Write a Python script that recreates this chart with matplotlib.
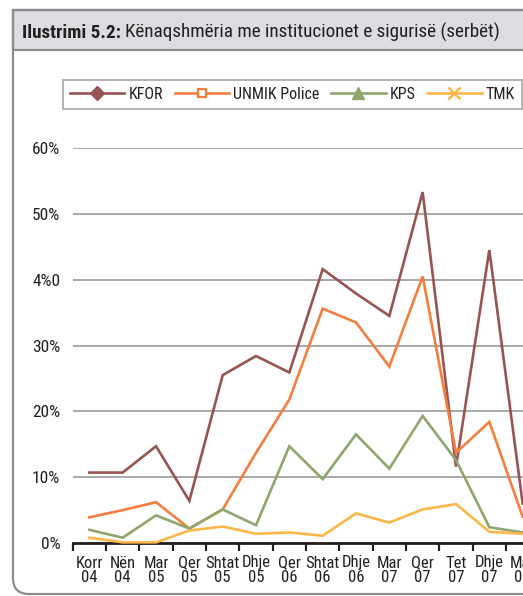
import os
import matplotlib
matplotlib.use("Agg")
import matplotlib.pyplot as plt
from matplotlib import font_manager as fm
from matplotlib.lines import Line2D
from matplotlib.path import Path
from matplotlib.patches import PathPatch, Rectangle

# Narrow sans-serif faces, best first: (regular file, bold file)
NARROW = [
    ("NotoSans-ExtraCondensed.ttf", "NotoSans-ExtraCondensedBold.ttf"),
    ("NotoSans-Condensed.ttf", "NotoSans-CondensedBold.ttf"),
    ("LiberationSansNarrow-Regular.ttf", "LiberationSansNarrow-Bold.ttf"),
    ("RobotoCondensed-Regular.ttf", "RobotoCondensed-Bold.ttf"),
    ("DejaVuSansCondensed.ttf", "DejaVuSansCondensed-Bold.ttf"),
]
files = {os.path.basename(f.fname): f.fname for f in fm.fontManager.ttflist}
reg_file = bold_file = None
for r_name, b_name in NARROW:
    if r_name in files:
        reg_file = files[r_name]
        bold_file = files.get(b_name, reg_file)
        break


def font(size, bold=False):
    if reg_file is None:
        return fm.FontProperties(family="DejaVu Sans", stretch="condensed",
                                 weight="bold" if bold else "normal", size=size)
    return fm.FontProperties(fname=bold_file if bold else reg_file, size=size)


# Survey periods (month, year)
months = ["Korr", "Nën", "Mar", "Qer", "Shtat", "Dhje", "Qer", "Shtat", "Dhje",
          "Mar", "Qer", "Tet", "Dhje", "Mar"]
years = ["04", "04", "05", "05", "05", "05", "06", "06", "06",
         "07", "07", "07", "07", "08"]

# Satisfaction shares, percent
kfor = [10.7, 10.7, 14.7, 6.4, 25.5, 28.4, 25.9, 41.6, 37.9, 34.5, 53.3, 11.6, 44.5, 6.0]
unmik = [3.9, 5.0, 6.2, 2.2, 5.1, 13.7, 21.8, 35.6, 33.5, 26.8, 40.5, 13.7, 18.4, 4.0]
kps = [2.0, 0.8, 4.2, 2.2, 5.1, 2.7, 14.7, 9.7, 16.5, 11.3, 19.3, 12.6, 2.4, 1.6]
tmk = [0.8, 0.1, 0.1, 1.9, 2.5, 1.4, 1.6, 1.1, 4.5, 3.1, 5.1, 5.9, 1.7, 1.4]

series_names = ["KFOR", "UNMIK Police", "KPS", "TMK"]
y_ticks = [0, 10, 20, 30, 40, 50, 60]
y_tick_labels = ["0%", "10%", "20%", "30%", "4%0", "50%", "60%"]

title_bold = "Ilustrimi 5.2:"
title_rest = "Kënaqshmëria me institucionet e sigurisë (serbët)"

colors = ["#985453", "#f47e3e", "#8fa66c", "#fdb748"]
ink = "#231f20"

W, H = 523, 596
fig = plt.figure(figsize=(W / 100, H / 100), dpi=100)

# Background layer in pixel coordinates: frame and title bar
bg = fig.add_axes([0, 0, 1, 1], zorder=0)
bg.set_xlim(0, W)
bg.set_ylim(H, 0)
bg.axis("off")
bg.add_patch(Rectangle((13, 10), 600, 40, facecolor="#dcdde0",
                       edgecolor="#8c8c8c", lw=1.6))
r = 16
verts = [(600, 10), (13, 10), (13, 594 - r), (13, 594), (13 + r, 594), (600, 594)]
codes = [Path.MOVETO, Path.LINETO, Path.LINETO, Path.CURVE3, Path.CURVE3, Path.LINETO]
bg.add_patch(PathPatch(Path(verts, codes), facecolor="none",
                       edgecolor="#8c8c8c", lw=1.6))


def draw_title(size):
    a = bg.text(22, 38, title_bold, fontproperties=font(size, True),
                va="baseline", ha="left", color=ink)
    fig.canvas.draw()
    b = bg.text(a.get_window_extent().x1 + 4, 38, title_rest,
                fontproperties=font(size), va="baseline", ha="left", color=ink)
    fig.canvas.draw()
    return a, b


# Title fitted to span the bar up to x = 500
a, b = draw_title(15)
right = b.get_window_extent().x1
a.remove()
b.remove()
draw_title(15 * (500 - 22) / (right - 22))

# Plot area
step = 33.33
x0 = 72.7
ax = fig.add_axes([x0 / W, 1 - 543 / H, 15 * step / W, (543 - 148) / H], zorder=1)
ax.patch.set_alpha(0)
x = list(range(len(months)))
for vals, c in zip([kfor, unmik, kps, tmk], colors):
    ax.plot(x, vals, color=c, lw=1.9, solid_joinstyle="miter", clip_on=False, zorder=3)

ax.set_xlim(-0.5, 14.5)
ax.set_ylim(0, 60)
ax.set_yticks(y_ticks)
ax.set_yticklabels(y_tick_labels, fontproperties=font(12.5))
ax.yaxis.grid(True, color="#a8a8a8", lw=1.4)
ax.set_axisbelow(True)
ax.tick_params(axis="y", length=0, pad=9, labelcolor=ink)

ax.set_xticks(x)
ax.set_xticklabels([f"{m}\n{y}" for m, y in zip(months, years)],
                   fontproperties=font(12), color=ink, linespacing=1.0)
ax.set_xticks([i - 0.5 for i in range(16)], minor=True)
ax.tick_params(axis="x", which="major", length=0, pad=9)
ax.tick_params(axis="x", which="minor", length=6, width=1.6, color=ink,
               direction="out")
for s in ["top", "right", "left"]:
    ax.spines[s].set_visible(False)
ax.spines["bottom"].set_color(ink)
ax.spines["bottom"].set_linewidth(2)

# Legend
markers = [dict(marker="D", ms=7, mfc=colors[0], mec=colors[0]),
           dict(marker="s", ms=6, mfc="white", mec=colors[1], mew=1.6),
           dict(marker="^", ms=8, mfc=colors[2], mec=colors[2]),
           dict(marker="x", ms=9, mec=colors[3], mew=1.8)]
handles = [Line2D([], [], color=c, lw=1.9, **m) for c, m in zip(colors, markers)]
leg = fig.legend(handles, series_names, ncol=4, loc="lower left", mode="expand",
                 bbox_to_anchor=(63 / W, 1 - 109 / H, (522 - 63) / W, 31 / H),
                 prop=font(11.5), handlelength=3.4, handletextpad=0.25,
                 columnspacing=0.6, frameon=True, fancybox=False,
                 borderpad=0.45, borderaxespad=0, labelcolor=ink)
leg.get_frame().set_edgecolor("#a0a0a0")
leg.get_frame().set_linewidth(1.4)

fig.savefig("out.png", dpi=100)
